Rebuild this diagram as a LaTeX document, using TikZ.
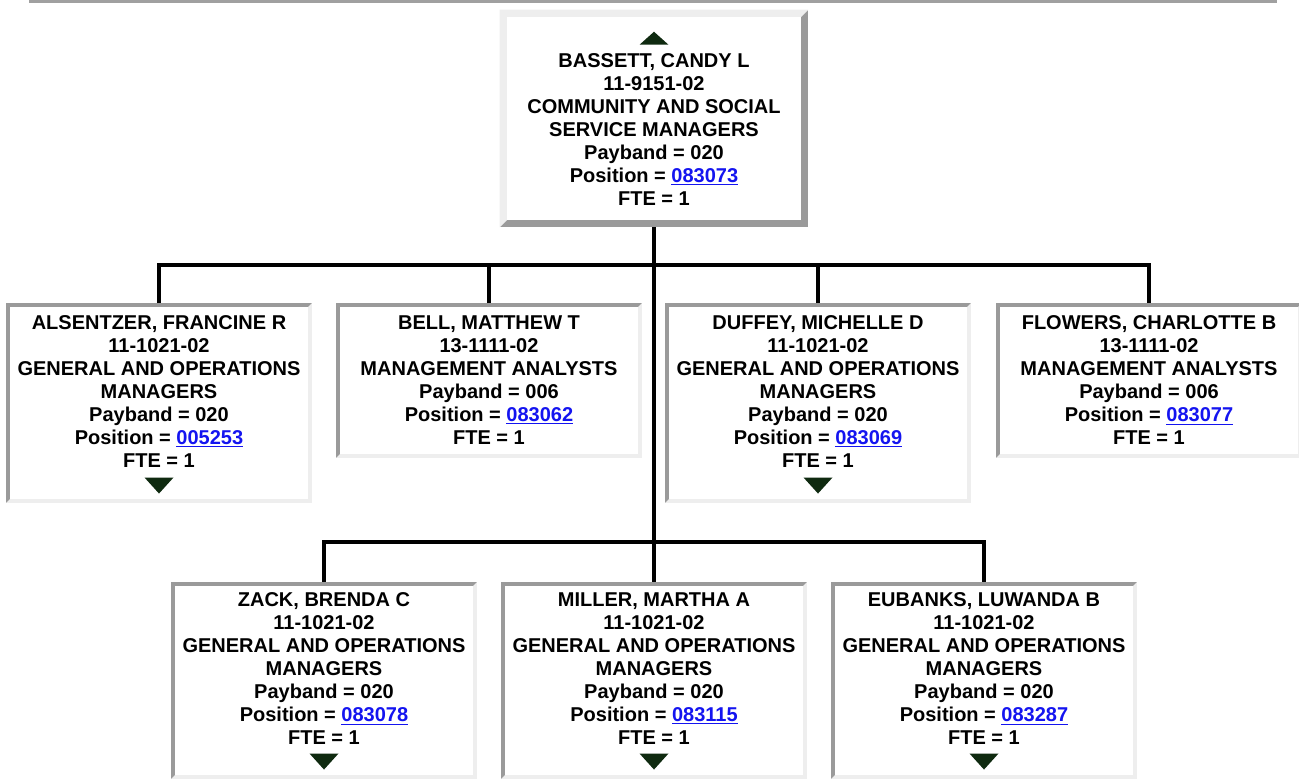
\documentclass[tikz,border=0pt]{standalone}
\usepackage{fontspec}
\setmainfont{Liberation Sans}
\usepackage{tikz}
\usetikzlibrary{positioning, calc, backgrounds}
\definecolor{orgGrey}{HTML}{A0A0A0}
\definecolor{orgDark}{HTML}{9A9A9A}
\definecolor{orgLight}{HTML}{EEEEEE}
\definecolor{orgLink}{HTML}{1414F0}
\definecolor{orgMark}{HTML}{0F2A10}
\newcommand{\poslink}[1]{\textcolor{orgLink}{\underline{#1}}}
\newcommand{\topgap}{\rule{0pt}{9pt}}
\newcommand{\markgap}{\rule{0pt}{0pt}}
\newcommand{\bevelframe}[4]{%
  \begin{scope}[on background layer]
    \fill[#3] (#1.north west) rectangle (#1.south east);
    \fill[#2] (#1.north west) -- (#1.north east)
      -- ([xshift=-#4,yshift=-#4]#1.north east)
      -- ([xshift=#4,yshift=-#4]#1.north west)
      -- ([xshift=#4,yshift=#4]#1.south west)
      -- (#1.south west) -- cycle;
    \fill[white] ([xshift=#4,yshift=-#4]#1.north west)
      rectangle ([xshift=-#4,yshift=#4]#1.south east);
  \end{scope}}
\newcommand{\downmark}[1]{%
  \fill[markfill] ($(#1.south)+(-14.5,-25)$) -- ++(29,0) -- ++(-14.5,16) -- cycle;}
\tikzset{
  staffbox/.style={rectangle, align=center, inner sep=0pt,
    minimum width=228.75pt,
    font=\fontsize{15}{17.25}\selectfont\bfseries},
  headbox/.style={staffbox, minimum width=231pt, minimum height=162.75pt},
  orgline/.style={line width=3pt, black},
  markfill/.style={fill=orgMark},
}

\begin{document}
\begin{tikzpicture}[x=0.75pt, y=-0.75pt]
    \useasboundingbox (0,0) rectangle (1299,783);
    \fill[orgGrey] (29,0) rectangle (1277,2.5);
    % top of the chart
    \node[headbox] (bassett) at (654,118.5)
      {\topgap\\ BASSETT, CANDY L\\ 11-9151-02\\ COMMUNITY AND SOCIAL\\
       SERVICE MANAGERS\\ Payband = 020\\ Position = \poslink{083073}\\ FTE = 1};
    % first row
    \node[staffbox, anchor=north, minimum height=149.25pt] (alsentzer) at (159,303)
      {ALSENTZER, FRANCINE R\\ 11-1021-02\\ GENERAL AND OPERATIONS\\ MANAGERS\\
       Payband = 020\\ Position = \poslink{005253}\\ FTE = 1\\ \markgap};
    \node[staffbox, anchor=north, minimum height=115.5pt] (bell) at (489,303)
      {BELL, MATTHEW T\\ 13-1111-02\\ MANAGEMENT ANALYSTS\\
       Payband = 006\\ Position = \poslink{083062}\\ FTE = 1};
    \node[staffbox, anchor=north, minimum height=149.25pt] (duffey) at (818,303)
      {DUFFEY, MICHELLE D\\ 11-1021-02\\ GENERAL AND OPERATIONS\\ MANAGERS\\
       Payband = 020\\ Position = \poslink{083069}\\ FTE = 1\\ \markgap};
    \node[staffbox, anchor=north, minimum height=115.5pt] (flowers) at (1149,303)
      {FLOWERS, CHARLOTTE B\\ 13-1111-02\\ MANAGEMENT ANALYSTS\\
       Payband = 006\\ Position = \poslink{083077}\\ FTE = 1};
    % second row
    \node[staffbox, anchor=north, minimum height=147pt] (zack) at (324,582)
      {ZACK, BRENDA C\\ 11-1021-02\\ GENERAL AND OPERATIONS\\ MANAGERS\\
       Payband = 020\\ Position = \poslink{083078}\\ FTE = 1\\ \markgap};
    \node[staffbox, anchor=north, minimum height=147pt] (miller) at (654,582)
      {MILLER, MARTHA A\\ 11-1021-02\\ GENERAL AND OPERATIONS\\ MANAGERS\\
       Payband = 020\\ Position = \poslink{083115}\\ FTE = 1\\ \markgap};
    \node[staffbox, anchor=north, minimum height=147pt] (eubanks) at (984,582)
      {EUBANKS, LUWANDA B\\ 11-1021-02\\ GENERAL AND OPERATIONS\\ MANAGERS\\
       Payband = 020\\ Position = \poslink{083287}\\ FTE = 1\\ \markgap};
    % frames
    \bevelframe{bassett}{orgLight}{orgDark}{5.5pt}
    \foreach \n in {alsentzer,bell,duffey,flowers,zack,miller,eubanks}
      {\bevelframe{\n}{orgDark}{orgLight}{3pt}}
    % expand / collapse marks
    \fill[markfill] ($(bassett.north)+(-14.5,35)$) -- ++(29,0) -- ++(-14.5,-13) -- cycle;
    \foreach \n in {alsentzer,duffey,zack,miller,eubanks}
      {\downmark{\n}}
    % connectors
    \coordinate (forkA) at ($(bassett.south)+(0,38)$);
    \coordinate (forkB) at ($(bassett.south)+(0,315)$);
    \draw[orgline] (bassett.south) -- (miller.north);
    \draw[orgline] (alsentzer.north) |- (forkA) -| (flowers.north);
    \draw[orgline] (bell.north) -- (bell.north |- forkA);
    \draw[orgline] (duffey.north) -- (duffey.north |- forkA);
    \draw[orgline] (zack.north) |- (forkB) -| (eubanks.north);
\end{tikzpicture}
\end{document}
